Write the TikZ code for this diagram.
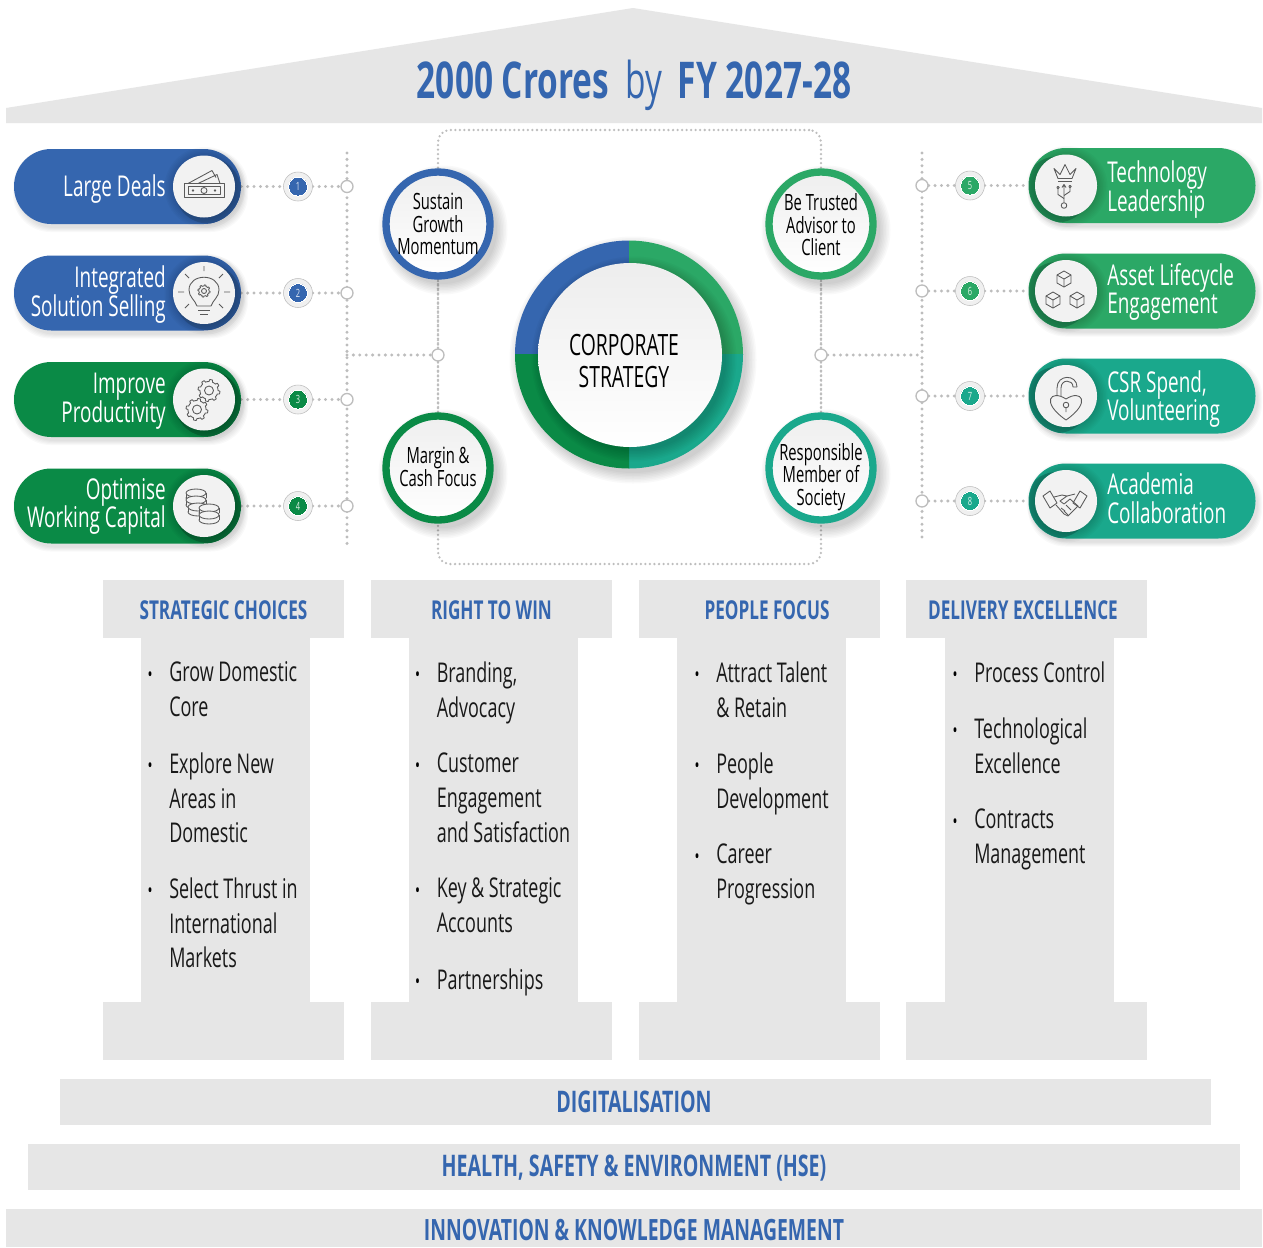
\documentclass[tikz,border=0pt]{standalone}
\usepackage{fontspec}
\setmainfont{Open Sans}[FakeStretch=0.66]
\usetikzlibrary{positioning}
\definecolor{cblue}{HTML}{3566AF}
\definecolor{cbluedk}{HTML}{2A5696}
\definecolor{cdgreen}{HTML}{0A8A46}
\definecolor{cdgreendk}{HTML}{0A6E3A}
\definecolor{cgreen}{HTML}{2BA866}
\definecolor{cgreendk}{HTML}{1F8A52}
\definecolor{cteal}{HTML}{1AA88C}
\definecolor{ctealdk}{HTML}{148670}
\definecolor{cpanel}{HTML}{E6E6E6}
\definecolor{cdot}{HTML}{BDBDBD}
\definecolor{cicon}{HTML}{5A5A5A}
\definecolor{chead}{HTML}{3566AF}
\newdimen\pxu \pxu=0.75pt
\pgfdeclarelayer{bg}\pgfsetlayers{bg,main}
\tikzset{
 x=0.75pt,y=-0.75pt,
 dotline/.style={draw=cdot,line width=2.5pt,line cap=round,dash pattern=on 0pt off 4.8pt},
 thinline/.style={draw=cdot,line width=1.9pt,line cap=round,dash pattern=on 0pt off 3.4pt},
 pillbox/.style={rectangle,rounded corners=28pt,minimum width=227\pxu,minimum height=75\pxu,inner sep=0pt},
 pilltext/.style={text=white,font=\fontsize{21.5}{21.6}\selectfont,inner sep=0pt},
 badge/.style={circle,fill=#1,draw=white,line width=0pt,minimum size=19\pxu,inner sep=0pt,text=white!85!#1,font=\fontsize{8.5}{9}\selectfont},
 badgering/.style={circle,fill=cpanel!60,draw=cdot,line width=0.4pt,minimum size=29\pxu,inner sep=0pt},
 hollow/.style={circle,fill=white,draw=cdot,line width=1pt,minimum size=12\pxu,inner sep=0pt},
 orb/.style={circle,top color=gray!13,bottom color=white,draw=#1,line width=5.5pt,minimum size=104\pxu,inner sep=0pt},
 orbtext/.style={inner sep=0pt,align=center,text=black,font=\fontsize{16.8}{16.9}\selectfont},
 panel/.style={rectangle,fill=cpanel,draw=none,inner sep=0pt},
 headtext/.style={text=chead,font=\bfseries\fontsize{19.5}{22}\selectfont,inner sep=0pt},
 bodytext/.style={anchor=north west,align=left,inner sep=0pt,text=black!90,font=\fontsize{20.4}{25.9}\selectfont},
 bulletmark/.style={inner sep=0pt,text=black,font=\fontsize{15}{16}\selectfont},
 icon/.style={draw=cicon,line width=0.65pt,line join=round}
}
\newcommand\softshadow[3]{\foreach \k in {0,...,7}{\fill[black,opacity=.022] (#1,#2) circle[radius={#3+\k*1.5}];}}
\newcommand\leftpill[7]{% id,cy,fill,dark,text,num,label y
 \foreach \k in {0,...,4}{\fill[black,opacity=.025,rounded corners=28pt] ({14+3-\k},{#2-37.5+4-\k}) rectangle ({241+3+\k},{#2+37.5+4+\k});}
 \node[pillbox,fill=#3] (pill#1) at (127.5,#2) {};
 \begin{scope}\clip[rounded corners=28pt] (14,{#2-37.5}) rectangle (241,{#2+37.5});
 \fill[#4] (208,{#2+4}) circle[radius=33];\end{scope}
 \softshadow{205}{#2+1}{30}
 \node[circle,fill=white!95!black,minimum size=62\pxu,inner sep=0pt] (disc#1) at (204,#2) {};
 \node[pilltext,anchor=east,align=right] (label#1) at (166,#7) {#5};
 \node[badgering] (ring#1) at (298,#2) {};
 \node[badge=#3] (num#1) at (298,#2) {#6};
 \node[hollow] (hub#1) at (347,#2) {};
 \begin{pgfonlayer}{bg}
 \draw[dotline] (pill#1) -- (ring#1);
 \draw[dotline] (ring#1) -- (hub#1);
 \end{pgfonlayer}
}
\newcommand\rightpill[7]{%
 \foreach \k in {0,...,4}{\fill[black,opacity=.025,rounded corners=28pt] ({1029+3-\k},{#2-37.5+4-\k}) rectangle ({1255+3+\k},{#2+37.5+4+\k});}
 \node[pillbox,fill=#3] (pill#1) at (1142,#2) {};
 \begin{scope}\clip[rounded corners=28pt] (1029,{#2-37.5}) rectangle (1255,{#2+37.5});
 \fill[#4] (1057,{#2+4}) circle[radius=33];\end{scope}
 \softshadow{1067}{#2+1}{30}
 \node[circle,fill=white!95!black,minimum size=62\pxu,inner sep=0pt] (disc#1) at (1066,#2) {};
 \node[pilltext,anchor=west,align=left] (label#1) at (1107,#7) {#5};
 \node[badgering] (ring#1) at (970,#2) {};
 \node[badge=#3] (num#1) at (970,#2) {#6};
 \node[hollow] (hub#1) at (922,#2) {};
 \begin{pgfonlayer}{bg}
 \draw[dotline] (hub#1) -- (ring#1);
 \draw[dotline] (ring#1) -- (pill#1);
 \end{pgfonlayer}
}
\newcommand\orbit[6]{% id,x,y,color,text,text y
 \softshadow{#2+5}{#3+6}{54}
 \node[orb=#4] (#1) at (#2,#3) {};
 \node[orbtext] (#1text) at (#2,#6) {#5};
}
\newcommand\pillar[3]{% id, left x, shaft left
 \node[panel,minimum width=241\pxu,minimum height=58\pxu] (head#1) at ({#2+120.5},609) {};
 \node[panel,minimum width=169\pxu,minimum height=366\pxu] (shaft#1) at ({#3+84.5},820) {};
 \node[panel,minimum width=241\pxu,minimum height=58\pxu] (foot#1) at ({#2+120.5},1031) {};
}
\newcommand\bul[4]{% id,bullet x,first line y,text
 \node[bulletmark] (dot#1) at (#2,{#3+3.5}) {•};
 \node[bodytext] (txt#1) at ({#2+19},{#3-11.3}) {\rule{0pt}{15pt}#4};
}
\newcommand\gearicon[3]{\draw[icon] plot[domain=0:360,samples=97] ({#1+(#3+(#3*.22)*(sin(8*\x)>0?1:0))*cos(\x)},{#2+(#3+(#3*.22)*(sin(8*\x)>0?1:0))*sin(\x)}) -- cycle;
 \draw[icon] (#1,#2) circle[radius={#3*.5}];}
\newcommand\coinicon[2]{\draw[icon,fill=white!95!black] (#1,{#2+5}) ellipse[x radius=10,y radius=4];
 \fill[white!95!black] ({#1-10},#2) rectangle ({#1+10},{#2+5});
 \draw[icon] ({#1-10},#2) -- ({#1-10},{#2+5}) ({#1+10},#2) -- ({#1+10},{#2+5});
 \draw[icon,fill=white!95!black] (#1,#2) ellipse[x radius=10,y radius=4];}
\newcommand\cubeicon[2]{\draw[icon] (#1,{#2-8}) -- ({#1+7},{#2-4}) -- ({#1+7},{#2+4}) -- (#1,{#2+8}) -- ({#1-7},{#2+4}) -- ({#1-7},{#2-4}) -- cycle;
 \draw[icon] ({#1-7},{#2-4}) -- (#1,#2) -- ({#1+7},{#2-4}) (#1,#2) -- (#1,{#2+8});}
\begin{document}
\begin{tikzpicture}
\useasboundingbox (0,0) rectangle (1263,1247);
\begin{pgfonlayer}{bg}
\fill[white] (0,0) rectangle (1263,1247);
\end{pgfonlayer}
% roof
\fill[cpanel] (6,108) -- (633,8) -- (1262,108) -- (1262,123) -- (6,123) -- cycle;
\node[inner sep=0pt,text=chead,font=\fontsize{38}{40}\selectfont] (title) at (634,85) {\textbf{2000 Crores}\hspace{12pt}by\hspace{12pt}\textbf{FY 2027-28}};
% frame and spines
\coordinate (spineLa) at (347,153);\coordinate (spineLb) at (347,545);
\coordinate (spineRa) at (922,153);\coordinate (spineRb) at (922,537);
\coordinate (spineLm) at (347,355);\coordinate (spineRm) at (922,355);
\begin{pgfonlayer}{bg}
\node[rectangle,rounded corners=9pt,minimum width=383\pxu,minimum height=434\pxu,thinline,inner sep=0pt] (frame) at (629.5,347) {};
\draw[dotline] (spineLa) -- (spineLb);
\draw[dotline] (spineRa) -- (spineRb);
\end{pgfonlayer}
% pills
\leftpill{1}{186.5}{cblue}{cbluedk}{Large Deals}{1}{189.5}
\leftpill{2}{293}{cblue}{cbluedk}{Integrated\\Solution Selling}{2}{294.5}
\leftpill{3}{399.5}{cdgreen}{cdgreendk}{Improve\\Productivity}{3}{401.5}
\leftpill{4}{506}{cdgreen}{cdgreendk}{Optimise\\Working Capital}{4}{506.5}
\rightpill{5}{185.5}{cgreen}{cgreendk}{Technology\\Leadership}{5}{189.5}
\rightpill{6}{291}{cgreen}{cgreendk}{Asset Lifecycle\\Engagement}{6}{292}
\rightpill{7}{396}{cteal}{ctealdk}{CSR Spend,\\Volunteering}{7}{399}
\rightpill{8}{501}{cteal}{ctealdk}{Academia\\Collaboration}{8}{498}
% orbit circles
\node[hollow] (junL) at (438,355) {};
\node[hollow] (junR) at (821,355) {};
\orbit{sustain}{438}{224}{cblue}{Sustain\\Growth\\Momentum}{224}
\orbit{margin}{438}{468}{cdgreen}{Margin \&\\Cash Focus}{467}
\orbit{trusted}{821}{224}{cgreen}{Be Trusted\\Advisor to\\Client}{225}
\orbit{society}{821}{468}{cteal}{Responsible\\Member of\\Society}{477}
\begin{pgfonlayer}{bg}
\draw[dotline] (spineLm) -- (junL);
\draw[dotline] (junR) -- (spineRm);
\draw[thinline] (sustain) -- (junL);
\draw[thinline] (junL) -- (margin);
\draw[thinline] (trusted) -- (junR);
\draw[thinline] (junR) -- (society);
\end{pgfonlayer}
% centre ring
\softshadow{633}{360}{113}
\begin{scope}\clip (515,240) rectangle (629,354.5);\fill[cblue] (629,354.5) circle[radius=114];\end{scope}
\begin{scope}\clip (629,240) rectangle (743,354.5);\fill[cgreen] (629,354.5) circle[radius=114];\end{scope}
\begin{scope}\clip (629,354.5) rectangle (743,469);\fill[cteal] (629,354.5) circle[radius=114];\end{scope}
\begin{scope}\clip (515,354.5) rectangle (629,469);\fill[cdgreen] (629,354.5) circle[radius=114];\end{scope}
\begin{scope}\clip (629,354.5) circle[radius=114];\softshadow{634}{359}{92}\end{scope}
\node[circle,top color=gray!14,bottom color=white,minimum size=184\pxu,inner sep=0pt] (core) at (630,355) {};
\node[inner sep=0pt,align=center,text=black,font=\fontsize{22}{24}\selectfont] (coretext) at (624,361) {CORPORATE\\STRATEGY};
% pillars
\pillar{1}{103}{141}
\pillar{2}{371}{409}
\pillar{3}{639}{677}
\pillar{4}{906}{945}
\node[headtext] (h1) at (223.5,610) {STRATEGIC CHOICES};
\node[headtext] (h2) at (491.5,610) {RIGHT TO WIN};
\node[headtext] (h3) at (767,610) {PEOPLE FOCUS};
\node[headtext] (h4) at (1023,610) {DELIVERY EXCELLENCE};
\bul{a1}{150}{673}{Grow Domestic\\Core}
\bul{a2}{150}{764}{Explore New\\Areas in\\Domestic}
\bul{a3}{150}{889}{Select Thrust in\\International\\Markets}
\bul{b1}{417.5}{673}{Branding,\\Advocacy}
\bul{b2}{417.5}{764}{Customer\\Engagement\\and Satisfaction}
\bul{b3}{417.5}{889}{Key \& Strategic\\Accounts}
\bul{b4}{417.5}{980}{Partnerships}
\bul{c1}{697}{673}{Attract Talent\\\& Retain}
\bul{c2}{697}{764}{People\\Development}
\bul{c3}{697}{855}{Career\\Progression}
\bul{d1}{955}{673}{Process Control}
\bul{d2}{955}{729}{Technological\\Excellence}
\bul{d3}{955}{820}{Contracts\\Management}
% bars
\node[panel,minimum width=1151\pxu,minimum height=46\pxu] (bar1) at (635.5,1102) {};
\node[panel,minimum width=1212\pxu,minimum height=46\pxu] (bar2) at (634,1167) {};
\node[panel,minimum width=1256\pxu,minimum height=38\pxu] (bar3) at (634,1228) {};
\node[headtext,font=\bfseries\fontsize{22.3}{23}\selectfont] (b1) at (634,1102) {DIGITALISATION};
\node[headtext,font=\bfseries\fontsize{22.3}{23}\selectfont] (b2) at (634,1168) {HEALTH, SAFETY \& ENVIRONMENT (HSE)};
\node[headtext,font=\bfseries\fontsize{22}{23}\selectfont] (b3) at (634,1230) {INNOVATION \& KNOWLEDGE MANAGEMENT};
% icons
\begin{scope}[shift={(204,186.5)}]
\draw[icon] (-16,-3) -- (8,-16) -- (12,-9) (-6,-3) -- (13,-12) -- (16,-3);
\draw[icon] (-20,-3) rectangle (20,11);\draw[icon] (-16,0) rectangle (16,8);
\draw[icon] (0,4) circle[radius=3];\draw[icon] (-11,4) circle[radius=.8] (11,4) circle[radius=.8];
\end{scope}
\begin{scope}[shift={(204,293)}]
\draw[icon] (-7,13) .. controls (-9,7) and (-15,4) .. (-15,-3) .. controls (-15,-20) and (15,-20) .. (15,-3) .. controls (15,4) and (9,7) .. (7,13) -- cycle;
\gearicon{0}{-2}{5}
\draw[icon] (-6,17) -- (6,17) (-4,21) -- (4,21);
\draw[icon] (0,-27) -- (0,-22) (-19,-19) -- (-15,-15) (19,-19) -- (15,-15) (-26,-1) -- (-20,-1) (26,-1) -- (20,-1) (-19,15) -- (-15,11) (19,15) -- (15,11);
\end{scope}
\begin{scope}[shift={(204,399.5)}]
\gearicon{5}{-9}{9}\gearicon{-7}{10}{9}
\end{scope}
\begin{scope}[shift={(204,506)}]
\coinicon{-8}{-13}\coinicon{-8}{-6}\coinicon{-6}{1}\coinicon{5}{2}\coinicon{5}{9}
\end{scope}
\begin{scope}[shift={(1066,185.5)}]
\draw[icon] (-12,-17) -- (-8,-7) -- (6,-7) -- (10,-17) -- (4,-11) -- (-1,-21) -- (-6,-11) -- cycle;
\draw[icon] (-8,-4) -- (6,-4);
\draw[icon] (-2,-1) -- (-2,17) (-4,2) -- (-2,-1) -- (0,2);
\draw[icon] (-2,20) circle[radius=2.8];
\draw[icon] (-2,13) -- (-8,9) -- (-8,3) (-2,10) -- (4,6) -- (4,2);
\draw[icon] (-8,2) circle[radius=1.2] (4,1) circle[radius=1.2];
\end{scope}
\begin{scope}[shift={(1066,291)}]
\cubeicon{-2}{-12}\cubeicon{-13}{9}\cubeicon{11}{9}
\end{scope}
\begin{scope}[shift={(1066,396)}]
\draw[icon] (0,24) .. controls (-26,6) and (-15,-7) .. (0,3) .. controls (15,-7) and (26,6) .. (0,24) -- cycle;
\draw[icon] (-9,-1) -- (-9,-8) .. controls (-9,-22) and (11,-22) .. (11,-9);
\draw[icon] (-5,0) -- (-5,-8) .. controls (-5,-17) and (7,-17) .. (7,-9) -- (11,-9);
\draw[icon] (0,9) circle[radius=2.8] (0,12) -- (0,16);
\end{scope}
\begin{scope}[shift={(1065,502)}]
\draw[icon] (-22,-6) -- (-15,-11) -- (-8,1) -- (-15,6) -- cycle;
\draw[icon] (22,-6) -- (15,-11) -- (8,1) -- (15,6) -- cycle;
\draw[icon] (-11,-5) -- (-3,-7) -- (2,-6) -- (-5,-1) -- (-1,2) -- (5,-3) -- (13,4) -- (3,14) -- (-1,12) -- (-9,3);
\draw[icon] (2,-6) -- (10,-8) (-4,6) -- (0,9) (-1,9) -- (3,13) (1,3) -- (6,8);
\end{scope}
\end{tikzpicture}
\end{document}
